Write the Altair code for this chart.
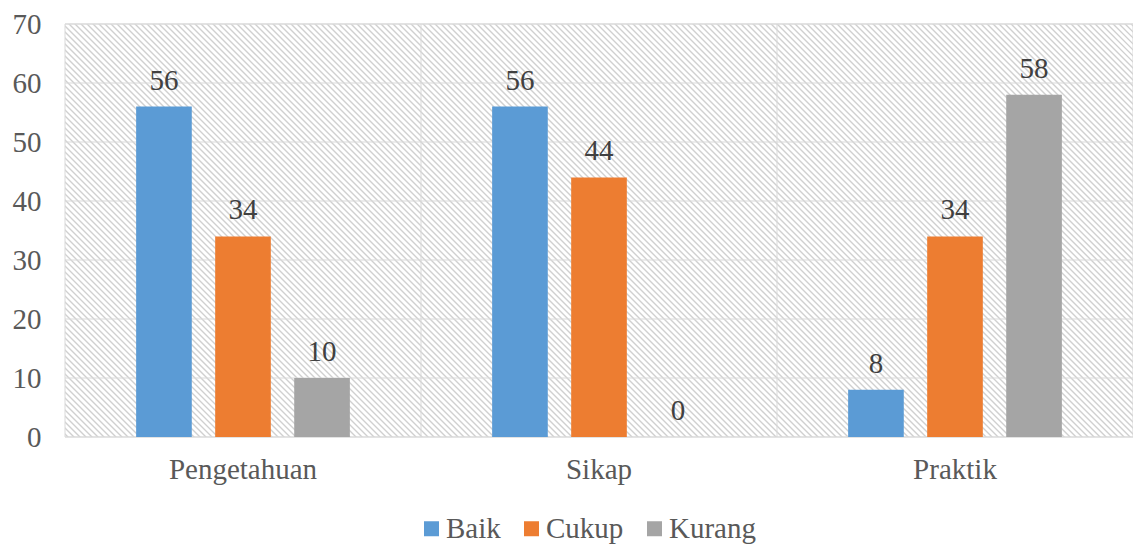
import altair as alt
import pandas as pd

categories = ["Pengetahuan", "Sikap", "Praktik"]
series = ["Baik", "Cukup", "Kurang"]
baik = [56, 56, 8]
cukup = [34, 44, 34]
kurang = [10, 0, 58]
y_ticks = [0, 10, 20, 30, 40, 50, 60, 70]
colors = ["#5b9bd5", "#ed7d31", "#a5a5a5"]

rows = []
for i, c in enumerate(categories):
    for s, vals in zip(series, [baik, cukup, kurang]):
        rows.append({"kategori": c, "seri": s, "nilai": vals[i]})
df = pd.DataFrame(rows)

W, H = 1068, 413
FONT = "Times New Roman, Liberation Serif, DejaVu Serif, serif"
FS = 29
GRID = "#d9d9d9"

xscale = alt.Scale(domain=categories, paddingInner=0, paddingOuter=0)
yscale = alt.Scale(domain=[0, 70], nice=False)
xoff = alt.Scale(domain=series, paddingInner=0.296, paddingOuter=0.9)
yaxis = alt.Axis(values=y_ticks, title=None)
one = pd.DataFrame({"a": [0]})

# diagonal hatch: a very wide dashed diagonal stroke, clipped to the plot
hatch = alt.Chart(one).mark_rule(
    clip=True, color="#d0d0d0", strokeWidth=2400, strokeDash=[1.4, 2.843],
    strokeCap="butt"
).encode(
    x=alt.value(-20), y=alt.value(H + 20), x2=alt.value(800), y2=alt.value(H - 800)
)

border = alt.Chart(one).mark_rect(
    fillOpacity=0, stroke=GRID, strokeWidth=1
).encode(
    x=alt.value(0), x2=alt.value(W), y=alt.value(0), y2=alt.value(H)
)

hgrid = alt.Chart(pd.DataFrame({"nilai": y_ticks})).mark_rule(
    color=GRID, strokeWidth=1
).encode(y=alt.Y("nilai:Q", scale=yscale, axis=yaxis))

vgrid = alt.Chart(pd.DataFrame({"kategori": categories[1:]})).mark_rule(
    color=GRID, strokeWidth=1
).encode(x=alt.X("kategori:N", scale=xscale, bandPosition=0, title=None))

base = alt.Chart(df).encode(
    x=alt.X("kategori:N", scale=xscale, sort=categories, title=None),
    xOffset=alt.XOffset("seri:N", scale=xoff, sort=series),
    y=alt.Y("nilai:Q", scale=yscale, axis=yaxis),
)

bars = base.mark_bar().encode(
    color=alt.Color(
        "seri:N", scale=alt.Scale(domain=series, range=colors), sort=series,
        legend=alt.Legend(title=None, orient="none", legendX=352, legendY=490,
                          direction="horizontal")
    )
)

labels = base.mark_text(
    font=FONT, fontSize=FS, color="#404040", baseline="alphabetic", dy=-17
).encode(text=alt.Text("nilai:Q"))

chart = alt.layer(hatch, border, hgrid, vgrid, bars, labels).properties(
    width=W, height=H,
    autosize=alt.AutoSizeParams(type="none"),
    padding={"left": 57, "right": 0, "top": 16, "bottom": 107},
).configure_view(
    stroke=None
).configure_axisY(
    domain=False, ticks=False, grid=False, labelFont=FONT, labelFontSize=FS,
    labelColor="#595959", labelPadding=24
).configure_axisX(
    domain=False, ticks=False, grid=False, labelFont=FONT, labelFontSize=FS,
    labelColor="#595959", labelPadding=18, labelAngle=0
).configure_legend(
    labelFont=FONT, labelFontSize=FS, labelColor="#595959",
    symbolType="square", symbolSize=225, symbolStrokeWidth=0,
    columnPadding=16, labelOffset=0
)

chart.save("out.html", embed_options={"renderer": "svg", "actions": False})
